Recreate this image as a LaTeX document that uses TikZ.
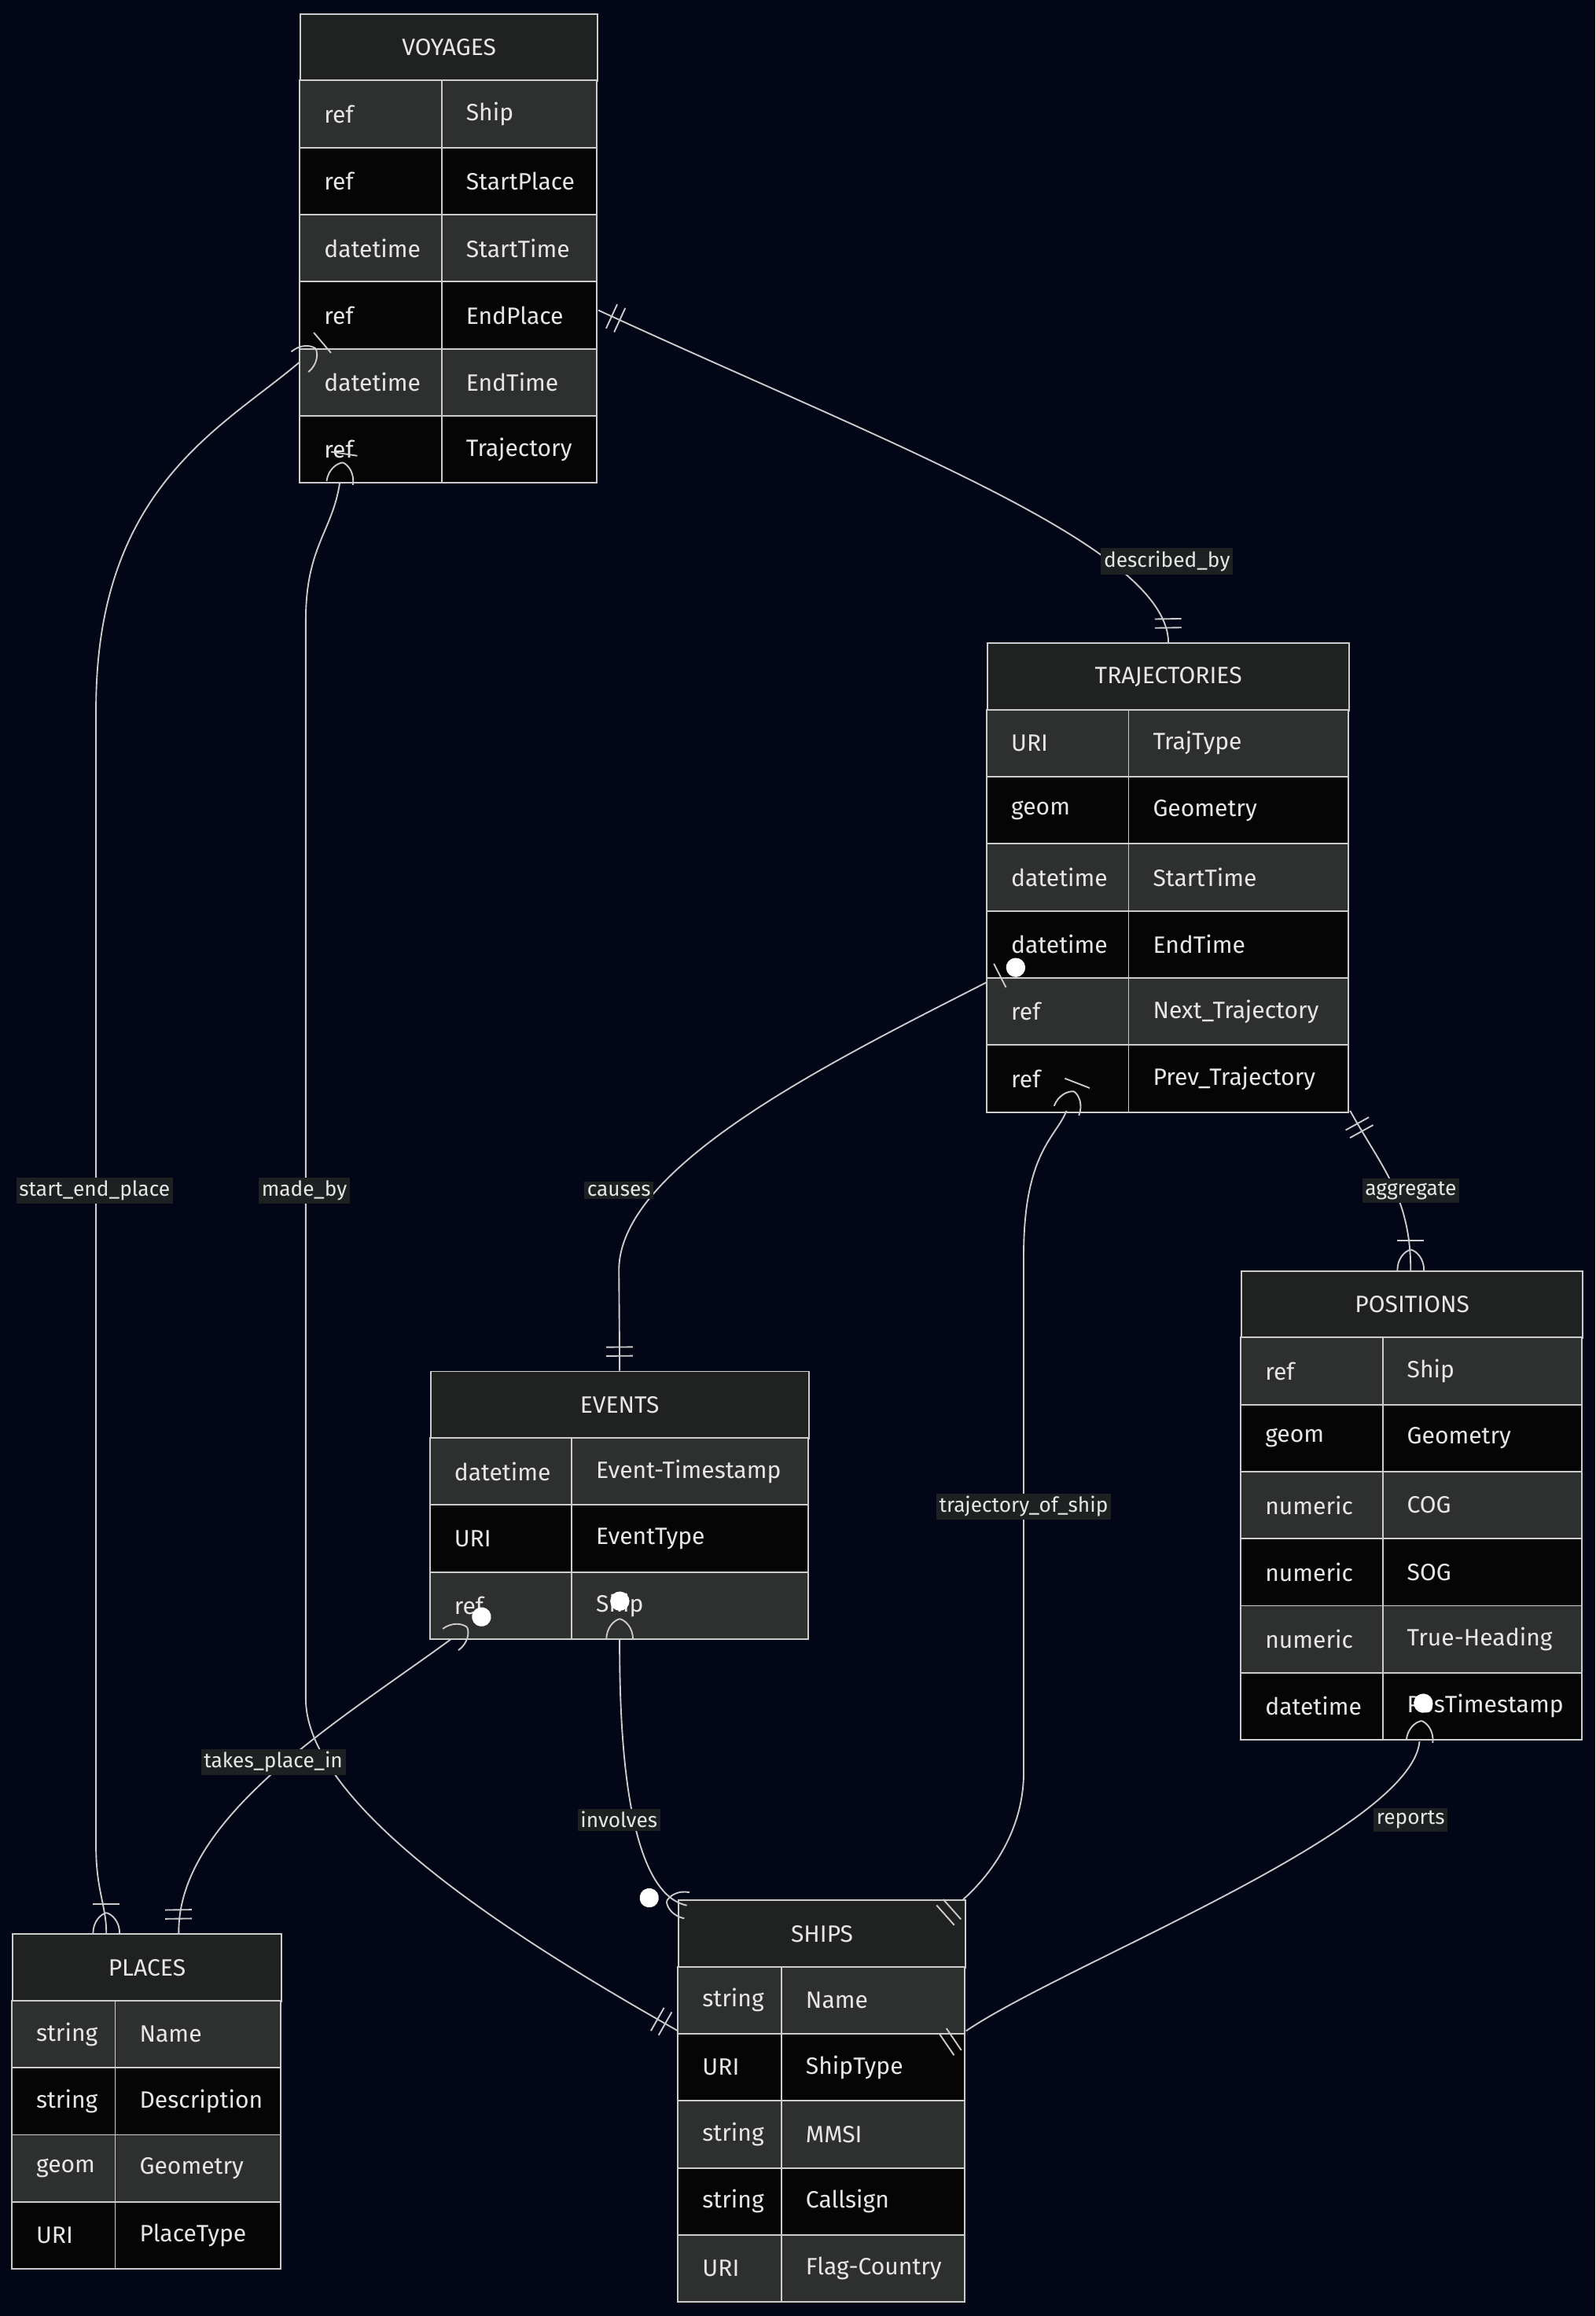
\documentclass[tikz,border=0pt]{standalone}
\usepackage{fontspec}
\setmainfont{Fira Sans}
\definecolor{bg}{HTML}{020617}
\definecolor{hd}{HTML}{202121}
\definecolor{rowA}{HTML}{2E2F2F}
\definecolor{rowB}{HTML}{050505}
\definecolor{bd}{HTML}{CCCCCC}
\definecolor{tx}{HTML}{E6E6E6}
\definecolor{lb}{HTML}{1E2122}
\tikzset{
 ln/.style={draw=bd, line width=1pt},
 lab/.style={fill=lb, text=tx, font=\fontsize{14}{16}\selectfont, inner sep=2pt},
 pics/two/.style={code={\draw[ln] (10,-9)--(10,9); \draw[ln] (16,-9)--(16,9);}},
 pics/crowbar/.style={code={\draw[ln] (0,9) .. controls (8,9) and (13,4) .. (14,0); \draw[ln] (0,-9) .. controls (8,-9) and (13,-4) .. (14,0); \draw[ln] (20,-9)--(20,9);}},
 pics/crowdot/.style={code={\draw[ln] (0,9) .. controls (8,9) and (13,4) .. (14,0); \draw[ln] (0,-9) .. controls (8,-9) and (13,-4) .. (14,0); \fill[white] (26,0) circle (6.5);}},
 pics/bardot/.style={code={\draw[ln] (10,-9)--(10,9); \fill[white] (22,0) circle (6.5);}},
}
\newcommand\ent[7]{%
 \node[draw=bd, line width=1pt, fill=hd, minimum width={#4-#2}, minimum height=45.5, text=tx, anchor=north west, inner sep=0, font=\fontsize{16}{18}\selectfont] (#1) at (#2,-#5) {#6};
 \foreach \a/\b [count=\i] in {#7}{%
  \pgfmathsetmacro\yt{-#5-45.5-(\i-1)*45.4}%
  \ifodd\i \def\fc{rowA}\else\def\fc{rowB}\fi
  \draw[draw=bd, line width=1pt, fill=\fc] (#2,\yt) rectangle (#3,\yt-45.4);
  \draw[draw=bd, line width=1pt, fill=\fc] (#3,\yt) rectangle (#4,\yt-45.4);
  \node[anchor=west,text=tx,font=\fontsize{16}{18}\selectfont] at (#2+13,\yt-22.7) {\a};
  \node[anchor=west,text=tx,font=\fontsize{16}{18}\selectfont] at (#3+13,\yt-22.7) {\b};
 }}
\begin{document}
\begin{tikzpicture}[x=1pt,y=1pt]
\fill[bg] (0,0) rectangle (1080,-1568);
\useasboundingbox (0,0) rectangle (1080,-1568);
\ent{voy}{203}{299}{404}{9}{VOYAGES}{ref/Ship,ref/StartPlace,datetime/StartTime,ref/EndPlace,datetime/EndTime,ref/Trajectory}
\ent{tra}{668}{764}{913}{435}{TRAJECTORIES}{URI/TrajType,geom/Geometry,datetime/StartTime,datetime/EndTime,ref/Next\_Trajectory,ref/Prev\_Trajectory}
\ent{pos}{840}{936}{1071}{860}{POSITIONS}{ref/Ship,geom/Geometry,numeric/COG,numeric/SOG,numeric/True-Heading,datetime/PosTimestamp}
\ent{eve}{291}{387}{547}{928}{EVENTS}{datetime/Event-Timestamp,URI/EventType,ref/Ship}
\ent{pla}{8}{78}{190}{1309}{PLACES}{string/Name,string/Description,geom/Geometry,URI/PlaceType}
\ent{shi}{459}{529}{653}{1286}{SHIPS}{string/Name,URI/ShipType,string/MMSI,string/Callsign,URI/Flag-Country}
% connectors
\draw[ln] ([yshift=-201]voy.north east) .. controls (600,-300) and (790,-370) .. (tra.north) pic[pos=0,sloped]{two} pic[pos=1,sloped,xscale=-1]{two};
\draw[ln] ([yshift=-236]voy.north west) .. controls (150,-290) and (65,-330) .. (65,-480) pic[pos=0,sloped]{crowbar} -- (65,-1250) .. controls (65,-1280) and (72,-1290) .. ([xshift=64]pla.north west) pic[pos=1,sloped,xscale=-1]{crowbar};
\draw[ln] ([xshift=27,yshift=-318]voy.north west) .. controls (225,-360) and (207,-370) .. (207,-420) pic[pos=0,sloped]{crowbar} -- (207,-1150) .. controls (207,-1230) and (380,-1330) .. ([yshift=-89]shi.north west) pic[pos=1,sloped,xscale=-1]{two};
\draw[ln] ([yshift=-230]tra.north west) .. controls (560,-720) and (419,-790) .. (419,-860) pic[pos=0,sloped]{bardot} -- (eve.north) pic[pos=1,sloped,xscale=-1]{two};
\draw[ln] ([xshift=54,yshift=-317]tra.north west) .. controls (715,-770) and (693,-780) .. (693,-850) pic[pos=0,sloped]{crowbar} -- (693,-1200) .. controls (693,-1240) and (670,-1270) .. ([xshift=-2]shi.north east) pic[pos=1,sloped,xscale=-1]{two};
\draw[ln] ([yshift=-317]tra.north east) .. controls (935,-790) and (955,-810) .. ([xshift=-1]pos.north) pic[pos=0,sloped]{two} pic[pos=1,sloped,xscale=-1]{crowbar};
\draw[ln] ([xshift=14,yshift=-182]eve.north west) .. controls (230,-1165) and (120,-1230) .. ([xshift=-70]pla.north east) pic[pos=0,sloped]{crowdot} pic[pos=1,sloped,xscale=-1]{two};
\draw[ln] ([yshift=-182]eve.north) .. controls (419,-1240) and (440,-1285) .. ([xshift=6,yshift=-4]shi.north west) pic[pos=0,sloped]{crowdot} pic[pos=1,sloped,xscale=-1]{crowdot};
\draw[ln] ([xshift=5,yshift=-319]pos.north) .. controls (955,-1240) and (720,-1330) .. ([yshift=-89]shi.north east) pic[pos=0,sloped]{crowdot} pic[pos=1,sloped,xscale=-1]{two};
% labels
\node[lab] (l1) at (790,-380) {described\_by};
\node[lab] (l2) at (64,-806) {start\_end\_place};
\node[lab] (l3) at (206,-806) {made\_by};
\node[lab] (l4) at (419,-806) {causes};
\node[lab] (l5) at (693,-1020) {trajectory\_of\_ship};
\node[lab] (l6) at (955,-806) {aggregate};
\node[lab] (l7) at (185,-1193) {takes\_place\_in};
\node[lab] (l8) at (419,-1232) {involves};
\node[lab] (l9) at (955,-1232) {reports};
\end{tikzpicture}
\end{document}
